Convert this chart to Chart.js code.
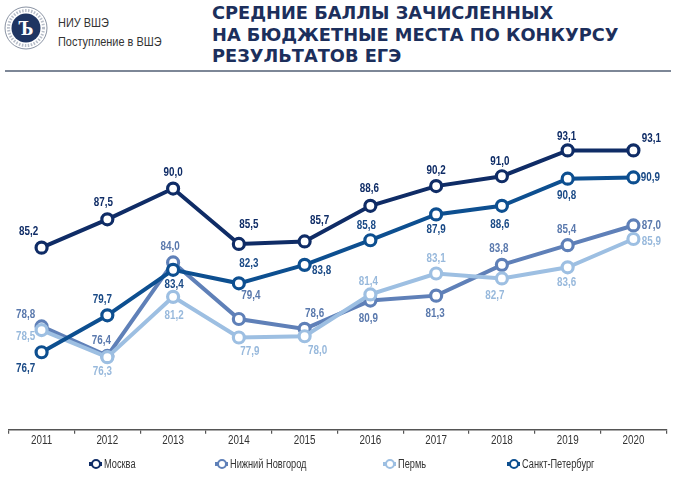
<!DOCTYPE html>
<html>
<head>
<meta charset="utf-8">
<script src="https://cdn.jsdelivr.net/npm/chart.js@4.4.1/dist/chart.umd.min.js"></script>
<style>
  html,body{margin:0;padding:0;background:#fff;}
  body{width:675px;height:491px;position:relative;overflow:hidden;font-family:"Liberation Sans",Arial,sans-serif;}
  #c{position:absolute;left:0;top:0;}
  .hdr{position:absolute;color:#333;font-size:13px;line-height:15px;transform:scaleX(0.84);transform-origin:0 0;white-space:nowrap;}
  .title{position:absolute;left:212px;top:2px;font-family:"DejaVu Sans",sans-serif;font-weight:bold;font-size:17.8px;line-height:21.5px;color:#1c2f5c;white-space:nowrap;}
  .rule{position:absolute;left:5px;top:70px;width:666px;height:2px;background:#7d8797;}
  .leg{position:absolute;top:457px;font-size:12px;color:#333;display:flex;align-items:center;height:14px;white-space:nowrap;}
  .leg span{display:inline-block;transform:scaleX(0.77);transform-origin:0 50%;}
  .mk{position:relative;width:13px;height:10px;margin-right:2px;}
  .mk .ln{position:absolute;left:0;top:3px;width:13px;height:4px;}
  .mk .dt{position:absolute;left:2px;top:0;width:6px;height:6px;border-radius:50%;border:2px solid;background:#fff;}
</style>
</head>
<body>
<svg style="position:absolute;left:3px;top:5px" width="46" height="46" viewBox="0 0 46 46">
  <circle cx="23" cy="23" r="21" fill="#fff" stroke="#8a93a3" stroke-width="1"/>
  <circle cx="23" cy="23" r="17.5" fill="none" stroke="#b7bdc8" stroke-width="3" stroke-dasharray="1.5 1.5"/>
  <circle cx="23" cy="23" r="14.5" fill="#1f3562"/>
  <text x="23" y="30" text-anchor="middle" font-family="Liberation Serif, serif" font-weight="bold" font-size="20" fill="#fff">Ъ</text>
</svg>
<div class="hdr" style="left:58px;top:15px;">НИУ ВШЭ</div>
<div class="hdr" style="left:58px;top:34px;">Поступление в ВШЭ</div>
<div class="title">СРЕДНИЕ БАЛЛЫ ЗАЧИСЛЕННЫХ<br>НА БЮДЖЕТНЫЕ МЕСТА ПО КОНКУРСУ<br>РЕЗУЛЬТАТОВ ЕГЭ</div>
<div class="rule"></div>
<canvas id="c" width="675" height="491"></canvas>
<div id="legend"></div>
<script>
const years = ['2011','2012','2013','2014','2015','2016','2017','2018','2019','2020'];
const moscow = [85.2, 87.5, 90.0, 85.5, 85.7, 88.6, 90.2, 91.0, 93.1, 93.1];
const nizhny = [78.8, 76.4, 84.0, 79.4, 78.6, 80.9, 81.3, 83.8, 85.4, 87.0];
const perm   = [78.5, 76.3, 81.2, 77.9, 78.0, 81.4, 83.1, 82.7, 83.6, 85.9];
const spb    = [76.7, 79.7, 83.4, 82.3, 83.8, 85.8, 87.9, 88.6, 90.8, 90.9];
const names  = ['Москва', 'Нижний Новгород', 'Пермь', 'Санкт-Петербург'];

const colors = {
  moscow: '#0f2c66',
  nizhny: '#5f80b8',
  perm:   '#9dbfe2',
  spb:    '#0d4f90'
};
const labelColors = {
  moscow: '#0f2c66',
  nizhny: '#5a79ad',
  perm:   '#98b9dc',
  spb:    '#1a4a86'
};
// label offsets (dx, dy) relative to each point
const offMoscow = [[-13,-16],[-4,-17],[0,-16],[10,-19],[15,-21],[-1,-17],[0,-15],[-2,-15],[-1,-14],[18,-12]];
const offNizhny = [[-16,-12],[-6,-15],[-3,-16],[12,-23],[10,-15],[-2,18],[-1,18],[-3,-16],[-1,-15],[18,0]];
const offPerm   = [[-16,7],[-5,15],[1,19],[11,14],[13,14],[-2,-13],[0,-15],[-7,17],[-1,15],[18,3]];
const offSpb    = [[-16,16],[-5,-16],[1,15],[10,-20],[17,6],[-4,-15],[0,15],[-2,19],[-1,17],[17,0]];

function ds(label, data, key, offs) {
  return {
    label, data,
    borderColor: colors[key],
    backgroundColor: '#ffffff',
    pointBackgroundColor: '#ffffff',
    pointBorderColor: colors[key],
    pointBorderWidth: 3.2,
    pointRadius: 5.5,
    pointHoverRadius: 5.5,
    borderWidth: 4,
    tension: 0,
    _labelColor: labelColors[key],
    _offsets: offs
  };
}

function narrowText(ctx, text, x, y, sx) {
  ctx.save();
  ctx.translate(x, y);
  ctx.scale(sx, 1);
  ctx.fillText(text, 0, 0);
  ctx.restore();
}

const valueLabels = {
  id: 'valueLabels',
  afterDatasetsDraw(chart) {
    const ctx = chart.ctx;
    ctx.save();
    ctx.font = 'bold 12px "Liberation Sans", Arial, sans-serif';
    ctx.textAlign = 'center';
    ctx.textBaseline = 'middle';
    chart.data.datasets.forEach((d, i) => {
      const meta = chart.getDatasetMeta(i);
      meta.data.forEach((pt, j) => {
        const o = d._offsets[j];
        ctx.fillStyle = d._labelColor;
        narrowText(ctx, d.data[j].toFixed(1).replace('.', ','), pt.x + o[0], pt.y + o[1], 0.82);
      });
    });
    // narrow x tick labels at the scale's own tick positions
    const xs = chart.scales.x;
    ctx.font = '12px "Liberation Sans", Arial, sans-serif';
    ctx.fillStyle = '#333';
    chart.data.labels.forEach((lab, k) => {
      narrowText(ctx, lab, xs.getPixelForTick(k), xs.top + 11, 0.82);
    });
    ctx.restore();
  }
};

new Chart(document.getElementById('c'), {
  type: 'line',
  data: {
    labels: years,
    datasets: [
      ds(names[0], moscow, 'moscow', offMoscow),
      ds(names[3], spb, 'spb', offSpb),
      ds(names[2], perm, 'perm', offPerm),
      ds(names[1], nizhny, 'nizhny', offNizhny)
    ]
  },
  options: {
    responsive: false,
    animation: false,
    layout: { padding: { left: 6, right: 4, top: 127, bottom: 42 } },
    plugins: { legend: { display: false }, tooltip: { enabled: false } },
    scales: {
      x: {
        offset: true,
        grid: { display: true, drawOnChartArea: false, drawTicks: true, tickLength: 4, offset: true, color: '#555', lineWidth: 1.2 },
        border: { display: true, color: '#555', width: 1.5 },
        ticks: { color: 'rgba(0,0,0,0)', font: { family: '"Liberation Sans", Arial, sans-serif', size: 11 }, padding: 1 }
      },
      y: { display: false, min: 70.4, max: 95 }
    }
  },
  plugins: [valueLabels]
});

// HTML legend
const legendItems = [
  {name: names[0], key: 'moscow', x: 89},
  {name: names[1], key: 'nizhny', x: 215},
  {name: names[2], key: 'perm', x: 383},
  {name: names[3], key: 'spb', x: 507}
];
const lg = document.getElementById('legend');
legendItems.forEach(it => {
  const d = document.createElement('div');
  d.className = 'leg';
  d.style.left = it.x + 'px';
  d.innerHTML = '<div class="mk"><div class="ln" style="background:' + colors[it.key] + '"></div><div class="dt" style="border-color:' + colors[it.key] + '"></div></div><span>' + it.name + '</span>';
  lg.appendChild(d);
});
</script>
</body>
</html>
